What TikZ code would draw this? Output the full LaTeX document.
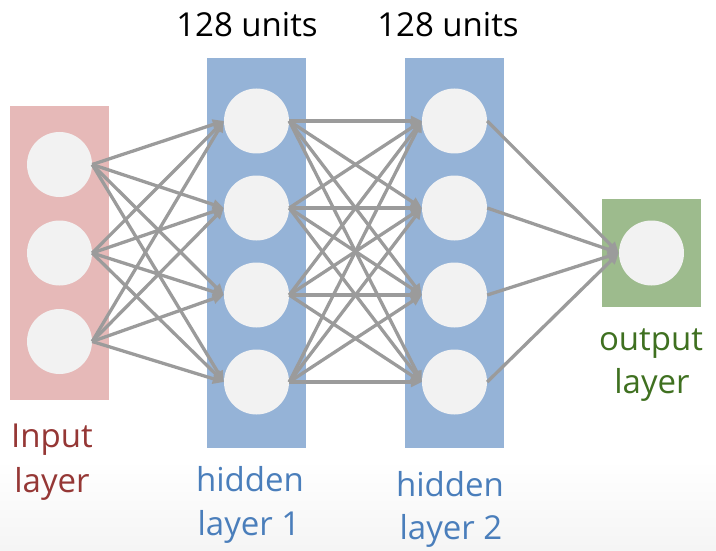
\documentclass[tikz,border=0pt]{standalone}
\usepackage{fontspec}
\setmainfont{Open Sans}
\usetikzlibrary{arrows.meta}
\definecolor{inbg}{HTML}{E6B9B8}
\definecolor{intx}{HTML}{953735}
\definecolor{hidbg}{HTML}{95B3D7}
\definecolor{hidtx}{HTML}{4A7EBB}
\definecolor{outbg}{HTML}{9DBB8D}
\definecolor{outtx}{HTML}{3F7020}
\definecolor{unit}{HTML}{F2F2F2}
\definecolor{edge}{HTML}{9B9B9B}
\begin{document}
\begin{tikzpicture}[x=1pt,y=-1pt,
  neuron/.style={circle,fill=unit,minimum size=65pt,inner sep=0pt},
  layerbox/.style={inner sep=0pt,outer sep=0pt},
  conn/.style={draw=edge,line width=3.3pt,-{Triangle[length=11pt,width=10pt]}},
  lab/.style={font=\fontsize{33}{40}\selectfont,anchor=base,inner sep=0pt}]
\useasboundingbox (0,0) rectangle (716,551);
\shade[top color=white,bottom color=black!4] (0,460) rectangle (716,551);
% layer boxes
\fill[inbg] (10,106) rectangle (109,400);
\fill[hidbg] (207,58) rectangle (306,448);
\fill[hidbg] (405,58) rectangle (504,448);
\fill[outbg] (602,199) rectangle (701,307);
% neurons
\node[neuron] (i1) at (59.5,164.5) {};
\node[neuron] (i2) at (59.5,253) {};
\node[neuron] (i3) at (59.5,341.5) {};
\foreach \k/\y in {1/121,2/208,3/295,4/382}{
  \node[neuron] (a\k) at (256.5,\y) {};
  \node[neuron] (b\k) at (454.5,\y) {};
}
\node[neuron] (o1) at (651.5,253) {};
% connections
\foreach \s in {1,2,3}{\foreach \t in {1,2,3,4}{\draw[conn] (i\s.east) -- (a\t.west);}}
\foreach \s in {1,2,3,4}{\foreach \t in {1,2,3,4}{\draw[conn] (a\s.east) -- (b\t.west);}}
\foreach \s in {1,2,3,4}{\draw[conn] (b\s.east) -- (o1.west);}
% labels
\node[lab] (u1) at (247,37) {128 units};
\node[lab] (u2) at (448,37) {128 units};
\node[lab,text=intx] (in1) at (52,447) {Input};
\node[lab,text=intx] (in2) at (52,492) {layer};
\node[lab,text=hidtx] (h1a) at (250,491) {hidden};
\node[lab,text=hidtx] (h1b) at (249,535) {layer 1};
\node[lab,text=hidtx] (h2a) at (450,496) {hidden};
\node[lab,text=hidtx] (h2b) at (451,539) {layer 2};
\node[lab,text=outtx] (out1) at (651,350) {output};
\node[lab,text=outtx] (out2) at (652,393) {layer};
\end{tikzpicture}
\end{document}
